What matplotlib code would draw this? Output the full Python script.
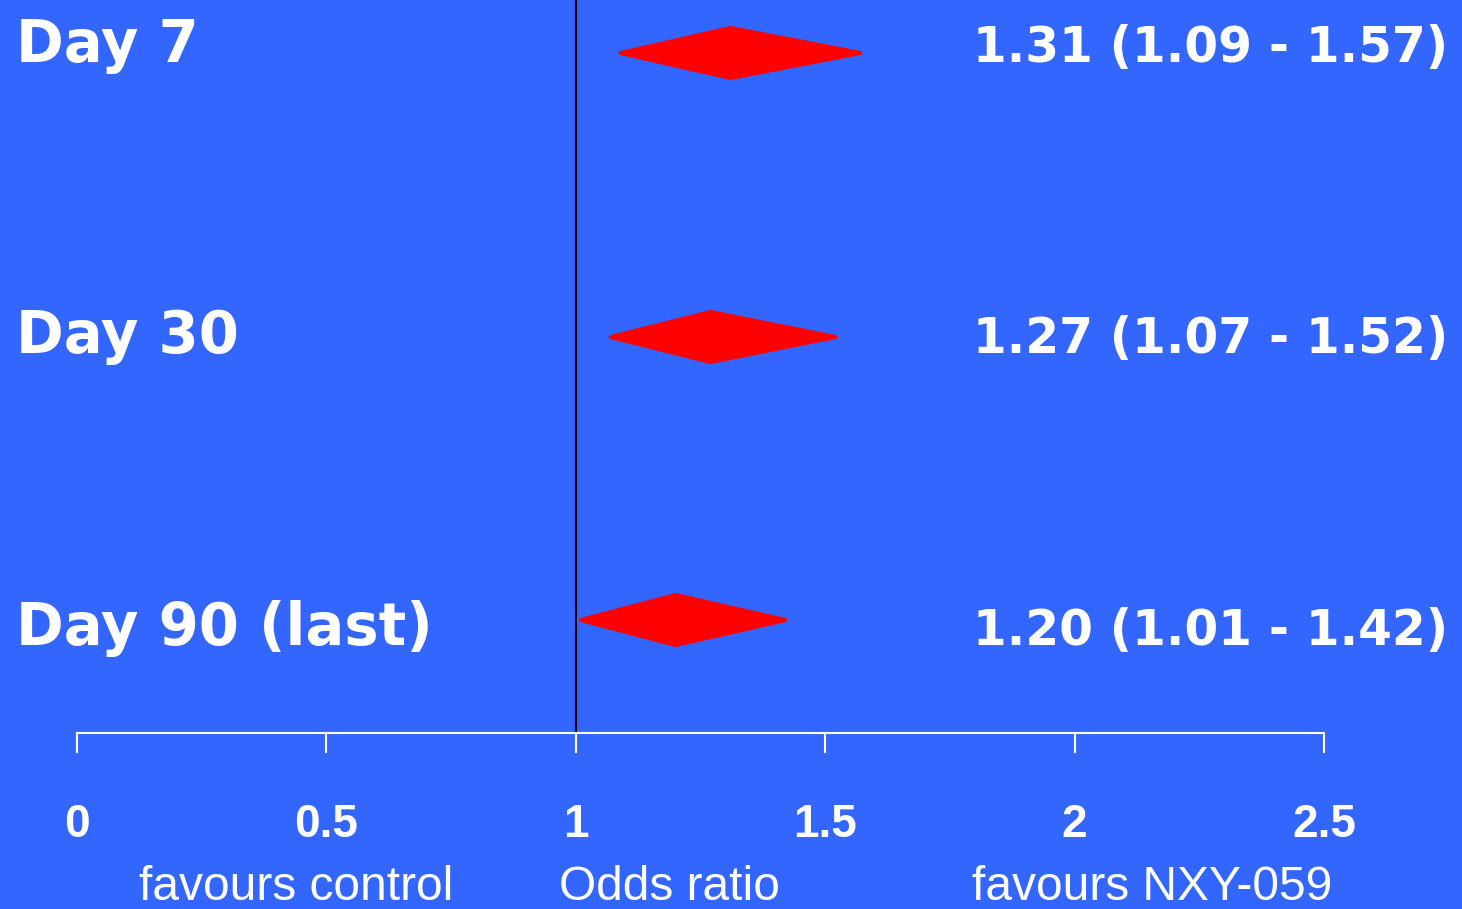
import matplotlib
matplotlib.use("Agg")
import matplotlib.pyplot as plt
from matplotlib.patches import Polygon
from matplotlib import font_manager

labels = ["Day 7", "Day 30", "Day 90 (last)"]
odds = [1.31, 1.27, 1.20]
lower = [1.09, 1.07, 1.01]
upper = [1.57, 1.52, 1.42]
ticks = [0, 0.5, 1, 1.5, 2, 2.5]
tick_labels = ["0", "0.5", "1", "1.5", "2", "2.5"]
bottom_texts = ["favours control", "Odds ratio", "favours NXY-059"]

BG = "#3366FF"
W, H = 1462, 909
fig = plt.figure(figsize=(W / 100, H / 100), dpi=100, facecolor=BG)
ax = fig.add_axes([0, 0, 1, 1])
ax.set_facecolor(BG)
scale = (1324 - 77) / 2.5
ax.set_xlim(-77 / scale, (W - 77) / scale)
ax.set_ylim(H, 0)
ax.axis("off")

names = {f.name for f in font_manager.fontManager.ttflist}
narrow = "Liberation Sans"
for cand in ["Liberation Sans Narrow", "DejaVu Sans Condensed"]:
    if cand in names:
        narrow = cand
        break
tick_size = 37 if narrow != "Liberation Sans" else 33

row_y = [53, 337, 620]
half_h = 25
text_base = [62, 353, 645]

def px(x):
    return (x - 77) / scale

# reference line
ax.plot([1, 1], [0, 733], color="black", lw=1.5, zorder=2)
# axis
ax.plot([ticks[0], ticks[-1]], [733, 733], color="white", lw=1.5, zorder=2)
for t, tl in zip(ticks, tick_labels):
    ax.plot([t, t], [733, 752], color="white", lw=1.5)
    ax.text(t, 837, tl, color="white", fontsize=tick_size, fontweight="bold",
            family=narrow, ha="center", va="baseline")

for lab, o, lo, hi, y, tb in zip(labels, odds, lower, upper, row_y, text_base):
    poly = Polygon([(lo, y), (o, y - half_h), (hi, y), (o, y + half_h)],
                   closed=True, facecolor="red", edgecolor="red", lw=3,
                   joinstyle="round", zorder=3)
    ax.add_patch(poly)
    ax.text(px(16), tb, lab, color="white",
            fontsize=41.5, fontweight="bold", family="DejaVu Sans",
            ha="left", va="baseline")
    ax.text(px(1448), tb, f"{o:.2f} ({lo:.2f} - {hi:.2f})",
            color="white", fontsize=35, fontweight="bold",
            family="DejaVu Sans", ha="right", va="baseline")

bx = [296, 669, 1152]
for t, x in zip(bottom_texts, bx):
    ax.text(px(x), 900, t, color="white", fontsize=34.5,
            family="Liberation Sans", ha="center", va="baseline")

fig.savefig("out.png", dpi=100, facecolor=BG)
